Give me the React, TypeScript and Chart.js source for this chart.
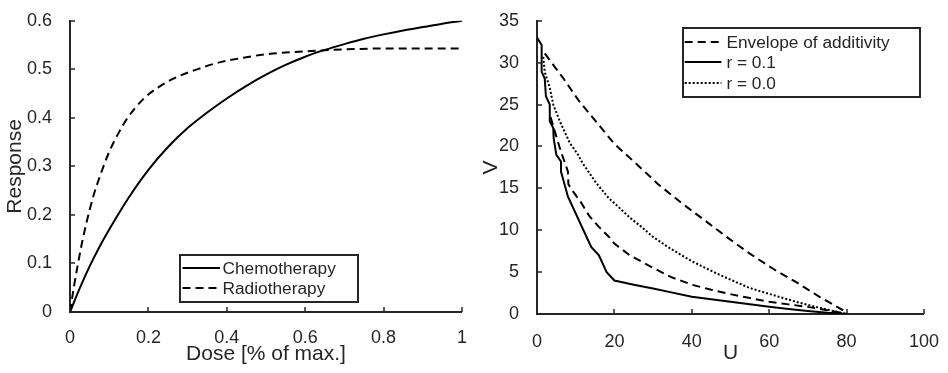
import React, { useEffect, useRef } from "react";
import { Chart, registerables } from "chart.js";

Chart.register(...registerables);

const FONT = "'Liberation Sans', Arial, Helvetica, sans-serif";
const AXIS = "#262626";

// ---------- Left panel data ----------
const chemoDose = [0, 0.025, 0.05, 0.075, 0.1, 0.15, 0.2, 0.25, 0.3, 0.35, 0.4, 0.45, 0.5, 0.55, 0.6, 0.65, 0.7, 0.75, 0.8, 0.85, 0.9, 0.95, 1];
const chemoResponse = [0, 0.049, 0.094, 0.134, 0.17, 0.236, 0.293, 0.34, 0.379, 0.411, 0.44, 0.466, 0.489, 0.509, 0.526, 0.54, 0.552, 0.563, 0.572, 0.58, 0.587, 0.594, 0.6];
const radioDose = [0, 0.01, 0.02, 0.03, 0.042, 0.059, 0.076, 0.1, 0.122, 0.147, 0.185, 0.227, 0.278, 0.328, 0.37, 0.45, 0.5, 0.6, 0.7, 0.8, 0.9, 1];
const radioResponse = [0, 0.052, 0.098, 0.14, 0.184, 0.237, 0.279, 0.33, 0.366, 0.4, 0.437, 0.464, 0.486, 0.501, 0.512, 0.525, 0.531, 0.537, 0.541, 0.543, 0.543, 0.543];
const leftLabels = ["Chemotherapy", "Radiotherapy"];

// ---------- Right panel data ----------
const envUpperU = [2, 6.7, 10.9, 15.2, 20, 25.5, 31.3, 37.2, 43, 49, 55, 61, 67, 73, 79, 80];
const envUpperV = [31.1, 28.2, 25.4, 23, 20.3, 18, 15.5, 13.3, 11.3, 9.2, 7.2, 5.4, 3.8, 2.05, 0.47, 0];
const envLowerU = [3.5, 4.8, 6.1, 8, 8.1, 9.2, 11.4, 13.5, 16, 18.6, 20, 24, 30, 34.7, 40, 45, 50, 55, 60, 65, 70, 75, 80];
const envLowerV = [23.5, 21.5, 19.5, 17, 15.5, 14.7, 13.3, 11.7, 10.4, 9.2, 8.4, 7, 5.5, 4.4, 3.5, 2.9, 2.37, 1.9, 1.46, 1.15, 0.85, 0.45, 0];
const r01U = [0, 1.2, 1.2, 2, 2.3, 3.3, 3.3, 4.2, 4.3, 5, 6.2, 6.2, 8, 14, 16, 18, 20, 25, 30, 35, 40, 45, 50, 55, 60, 65, 70, 75, 80.5];
const r01V = [33, 32.1, 28.9, 28.1, 26, 25, 23, 22.2, 21, 19, 18.2, 17, 14, 8, 7, 5, 4, 3.5, 3.05, 2.55, 2.05, 1.75, 1.45, 1.15, 0.87, 0.6, 0.35, 0.15, 0];
const r00U = [1.6, 2, 3.3, 4.2, 5.9, 7.1, 8.5, 10.5, 11.8, 15.2, 18.6, 20.3, 24, 27, 30, 33.8, 40, 46.6, 50, 55, 60, 66.9, 70, 75.4, 80];
const r00V = [30.7, 28.9, 27, 25, 23, 21.8, 20.4, 19.1, 18, 15.7, 13.8, 13.1, 11.5, 10.4, 9.2, 8, 6.3, 4.8, 4.1, 3.1, 2.4, 1.46, 1.1, 0.47, 0];
const rightLabels = ["Envelope of additivity", "r = 0.1", "r = 0.0"];

const zip = (xs: number[], ys: number[]) => xs.map((x, i) => ({ x, y: ys[i] }));

// Inward tick marks drawn from the scales' own ticks
const innerTicks = {
  id: "innerTicks",
  afterDraw(chart: any) {
    const { ctx, chartArea } = chart;
    const len = 5;
    ctx.save();
    ctx.strokeStyle = AXIS;
    ctx.lineWidth = 1.5;
    const xs = chart.scales.x;
    const ys = chart.scales.y;
    xs.ticks.forEach((t: any) => {
      const p = Math.round(xs.getPixelForValue(t.value));
      ctx.beginPath();
      ctx.moveTo(p, chartArea.bottom);
      ctx.lineTo(p, chartArea.bottom - len);
      ctx.stroke();
    });
    ys.ticks.forEach((t: any) => {
      const p = Math.round(ys.getPixelForValue(t.value));
      ctx.beginPath();
      ctx.moveTo(chartArea.left, p);
      ctx.lineTo(chartArea.left + len, p);
      ctx.stroke();
    });
    ctx.restore();
  },
};

// Boxed legend in the MATLAB style
const boxLegend = {
  id: "boxLegend",
  afterDraw(chart: any, _args: any, opts: any) {
    const { ctx } = chart;
    const { x, y, w, h, rowStart, rowH, sampleX, sampleLen, textGap, fontSize } = opts;
    ctx.save();
    ctx.fillStyle = "#ffffff";
    ctx.fillRect(x, y, w, h);
    ctx.strokeStyle = AXIS;
    ctx.lineWidth = 2;
    ctx.strokeRect(x, y, w, h);
    let row = 0;
    chart.data.datasets.forEach((ds: any) => {
      if (ds.legendHidden) return;
      const cy = Math.round(y + rowStart + row * rowH);
      ctx.beginPath();
      ctx.setLineDash(ds.borderDash || []);
      ctx.lineWidth = ds.borderWidth;
      ctx.strokeStyle = ds.borderColor;
      ctx.moveTo(x + sampleX, cy);
      ctx.lineTo(x + sampleX + sampleLen, cy);
      ctx.stroke();
      ctx.setLineDash([]);
      ctx.fillStyle = AXIS;
      ctx.font = `${fontSize}px ${FONT}`;
      ctx.textBaseline = "middle";
      ctx.textAlign = "left";
      ctx.fillText(ds.label, x + sampleX + sampleLen + textGap, cy + 1);
      row++;
    });
    ctx.restore();
  },
};

const fmt = (v: any) => String(+(+v).toFixed(3));

function axisOpts(min: number, max: number, step: number, title: string, pad: any, tickPad: number, fit: (s: any) => void) {
  return {
    type: "linear" as const,
    min,
    max,
    ticks: {
      stepSize: step,
      color: AXIS,
      font: { family: FONT, size: 18 },
      padding: tickPad,
      maxRotation: 0,
      autoSkip: false,
      callback: fmt,
    },
    grid: { display: false },
    border: { display: true, color: AXIS, width: 2 },
    title: { display: true, text: title, color: AXIS, font: { family: FONT, size: 21 }, padding: pad },
    afterFit: fit,
  };
}

function LeftChart() {
  const ref = useRef<HTMLCanvasElement>(null);
  useEffect(() => {
    const chart = new Chart(ref.current!, {
      type: "line",
      data: {
        datasets: [
          {
            label: leftLabels[0],
            data: zip(chemoDose, chemoResponse),
            borderColor: "#000",
            borderWidth: 2,
            pointRadius: 0,
            cubicInterpolationMode: "monotone",
          },
          {
            label: leftLabels[1],
            data: zip(radioDose, radioResponse),
            borderColor: "#000",
            borderWidth: 2,
            borderDash: [8, 5],
            pointRadius: 0,
            cubicInterpolationMode: "monotone",
          },
        ] as any,
      },
      options: {
        responsive: false,
        animation: false,
        events: [],
        layout: { padding: { left: 0, top: 12, right: 8, bottom: 0 } },
        scales: {
          x: axisOpts(0, 1, 0.2, "Dose [% of max.]", { top: 0, bottom: 6 }, 7, (s: any) => { s.height = 61; }),
          y: axisOpts(0, 0.6, 0.1, "Response", { top: 3, bottom: 0 }, 10, (s: any) => { s.width = 70; }),
        },
        plugins: {
          legend: { display: false },
          tooltip: { enabled: false },
          boxLegend: { x: 180, y: 255, w: 178, h: 47, rowStart: 13, rowH: 20, sampleX: 2.5, sampleLen: 37.5, textGap: 2.5, fontSize: 17.3 },
        } as any,
      },
      plugins: [innerTicks, boxLegend],
    });
    return () => chart.destroy();
  }, []);
  return <canvas ref={ref} width={474} height={373} style={{ display: "block" }} />;
}

function RightChart() {
  const ref = useRef<HTMLCanvasElement>(null);
  useEffect(() => {
    const chart = new Chart(ref.current!, {
      type: "line",
      data: {
        datasets: [
          {
            label: rightLabels[0],
            data: zip(envUpperU, envUpperV),
            borderColor: "#000",
            borderWidth: 2,
            borderDash: [8, 5],
            pointRadius: 0,
          },
          {
            label: rightLabels[0],
            legendHidden: true,
            data: zip(envLowerU, envLowerV),
            borderColor: "#000",
            borderWidth: 2,
            borderDash: [8, 5],
            pointRadius: 0,
          },
          {
            label: rightLabels[1],
            data: zip(r01U, r01V),
            borderColor: "#000",
            borderWidth: 2,
            pointRadius: 0,
          },
          {
            label: rightLabels[2],
            data: zip(r00U, r00V),
            borderColor: "#000",
            borderWidth: 2,
            borderDash: [2, 2],
            pointRadius: 0,
          },
        ] as any,
      },
      options: {
        responsive: false,
        animation: false,
        events: [],
        layout: { padding: { left: 0, top: 19, right: 18, bottom: 0 } },
        scales: {
          x: axisOpts(0, 100, 20, "U", { top: 0, bottom: 7 }, 9, (s: any) => { s.height = 59; }),
          y: axisOpts(0, 35, 5, "V", { top: 5, bottom: 0 }, 10, (s: any) => { s.width = 63; }),
        },
        plugins: {
          legend: { display: false },
          tooltip: { enabled: false },
          boxLegend: { x: 209, y: 28, w: 237, h: 69, rowStart: 13.5, rowH: 20.8, sampleX: 1.7, sampleLen: 36.7, textGap: 5, fontSize: 17.3 },
        } as any,
      },
      plugins: [innerTicks, boxLegend],
    });
    return () => chart.destroy();
  }, []);
  return <canvas ref={ref} width={474} height={373} style={{ display: "block" }} />;
}

export default function App() {
  return (
    <div style={{ position: "absolute", left: 0, top: 0, width: 948, height: 373, display: "flex", background: "#fff" }}>
      <LeftChart />
      <RightChart />
    </div>
  );
}
